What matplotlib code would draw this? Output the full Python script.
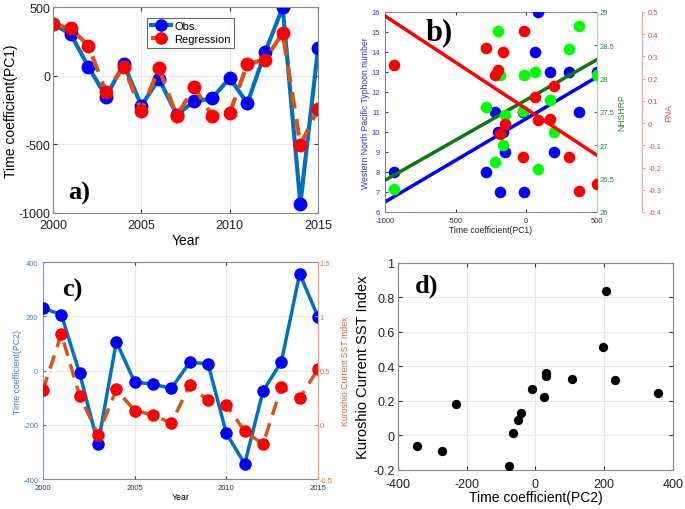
import matplotlib
matplotlib.use('Agg')
import matplotlib.pyplot as plt

plt.rcParams['font.family'] = ['Liberation Sans', 'DejaVu Sans']
plt.rcParams['axes.unicode_minus'] = False

years = list(range(2000, 2016))
pc1_obs = [376, 303, 65, -153, 85, -218, -24, -284, -187, -165, -17, -201, 170, 497, -934, 199]
pc1_reg = [376, 345, 218, -121, 65, -255, 53, -291, -85, -291, -274, 85, 117, 311, -505, -243]

typhoon = [11, 13, 14, 9, 16, 11, 11, 8, 7, 10, 7, 10, 13, 13, 8, 9]
nhshrp = [28.79, 28.44, 28.10, 27.45, 26.64, 26.75, 27.51, 27.57, 28.06, 27.00,
          28.05, 28.71, 27.68, 28.05, 26.34, 27.20]
pna = [-0.305, -0.153, 0.116, -0.005, 0.016, 0.218, -0.153, 0.340, -0.047, 0.320,
       0.415, 0.238, 0.017, -0.273, 0.263, 0.167]
fit_x = [-1000, 500]
typhoon_fit = [6.5, 12.75]
nhshrp_fit = [26.475, 28.285]
pna_fit = [0.482, -0.145]

pc2 = [230, 206, -11, -272, 106, -43, -50, -66, 30, 25, -232, -344, -76, 32, 357, 197]
sst = [0.32, 0.836, 0.267, -0.09, 0.325, 0.13, 0.09, 0.016, 0.365, 0.224,
       0.182, -0.06, -0.178, 0.346, 0.246, 0.512]

LINE_BLUE = '#0072BD'
LINE_ORANGE = '#D95319'
GRIDC = '#e6e6e6'
SPINE = '#888888'

fig = plt.figure(figsize=(6.85, 5.10), dpi=100)

def style_box(ax):
    for s in ax.spines.values():
        s.set_color(SPINE)
        s.set_linewidth(0.8)

# ---------- panel a ----------
axa = fig.add_axes([0.0774, 0.5804, 0.3869, 0.4039])
axa.plot(years, pc1_obs, '-o', color=LINE_BLUE, lw=3, ms=9,
         mfc='#0000FF', mec='#0000FF', label='Obs.')
axa.plot(years, pc1_reg, '--o', color=LINE_ORANGE, lw=3, ms=9,
         mfc='#FF0000', mec='#FF0000', dashes=(4, 2.5), label='Regression')
axa.set_xlim(2000, 2015)
axa.set_ylim(-1000, 500)
axa.set_xticks([2000, 2005, 2010, 2015])
axa.set_yticks([-1000, -500, 0, 500])
axa.grid(True, color=GRIDC, lw=0.8)
axa.set_axisbelow(True)
axa.tick_params(direction='in', labelsize=9, length=3, top=True, right=True,
                colors='#333333', labelcolor='#222222')
axa.tick_params(axis='y', pad=2)
axa.tick_params(axis='x', pad=4)
style_box(axa)
axa.set_xlabel('Year', fontsize=10, labelpad=2)
axa.set_ylabel('Time coefficient(PC1)', fontsize=10, labelpad=0)
leg = axa.legend(loc='upper left', bbox_to_anchor=(0.335, 0.975), fontsize=8,
                 frameon=True, fancybox=False, handlelength=1.8, handletextpad=0.3,
                 borderpad=0.3, labelspacing=0.3, markerscale=0.9)
leg.get_frame().set_edgecolor('#444444')
leg.get_frame().set_linewidth(0.8)
axa.text(0.057, 0.068, 'a)', transform=axa.transAxes, fontsize=19,
         fontweight='bold', family='Liberation Serif', va='baseline', ha='left')

# ---------- panel b ----------
axb = fig.add_axes([0.562, 0.5824, 0.3095, 0.3922])
axb.scatter(pc1_obs, typhoon, s=70, color='#0000FF', zorder=3, linewidths=0)
axb.plot(fit_x, typhoon_fit, color='#0000FF', lw=2.5, zorder=2)
axb.set_xlim(-1000, 500)
axb.set_ylim(6, 16)
axb.set_xticks([-1000, -500, 0, 500])
axb.set_yticks(range(6, 17))
axb.tick_params(axis='y', direction='in', labelsize=5.5, length=2.5, colors='#3030e0',
                right=True)
axb.tick_params(axis='x', direction='in', labelsize=5.5, length=2.5, colors='#333333',
                top=True)
for s in axb.spines.values():
    s.set_color(SPINE)
    s.set_linewidth(0.7)
axb.spines['left'].set_color('#7070c0')
axb.set_ylabel('Western North Pacific Typhoon number', fontsize=6.2, color='#3030e0',
               labelpad=1)
axb.set_xlabel('Time coefficient(PC1)', fontsize=6.2, labelpad=1, color='#222222')

axg = axb.twinx()
axg.scatter(pc1_obs, nhshrp, s=70, color='#00FF00', zorder=3, linewidths=0)
axg.plot(fit_x, nhshrp_fit, color='#0A7A0A', lw=2.5, zorder=2)
axg.set_ylim(26, 29)
axg.set_yticks([26, 26.5, 27, 27.5, 28, 28.5, 29])
axg.set_yticklabels(['26', '26.5', '27', '27.5', '28', '28.5', '29'])
axg.tick_params(axis='y', direction='in', labelsize=5.5, length=2.5, colors='#2e8b2e', pad=2)
axg.spines['right'].set_color('#a0d8a0')
for k in ['left', 'top', 'bottom']:
    axg.spines[k].set_visible(False)
axg.set_ylabel('NHSHRP', fontsize=6.2, color='#2e8b2e', labelpad=2)

axp = axb.twinx()
axp.scatter(pc1_obs, pna, s=70, color='#FF0000', zorder=3, linewidths=0)
axp.plot(fit_x, pna_fit, color='#FF0000', lw=2.5, zorder=2)
axp.set_ylim(-0.4, 0.5)
axp.set_yticks([-0.4, -0.3, -0.2, -0.1, 0, 0.1, 0.2, 0.3, 0.4, 0.5])
axp.set_yticklabels(['-0.4', '-0.3', '-0.2', '-0.1', '0', '0.1', '0.2', '0.3', '0.4', '0.5'])
axp.spines['right'].set_position(('outward', 32.4))
axp.spines['right'].set_color('#f4a0a0')
for k in ['left', 'top', 'bottom']:
    axp.spines[k].set_visible(False)
axp.tick_params(axis='y', direction='out', labelsize=5.5, length=2.5, colors='#f4a0a0',
                labelcolor='#e04848', pad=2)
axp.set_ylabel('PNA', fontsize=6.2, color='#e04848', labelpad=2)
axb.text(0.19, 0.865, 'b)', transform=axb.transAxes, fontsize=22,
         fontweight='bold', family='Liberation Serif', va='baseline', ha='left', zorder=10)

# ---------- panel c ----------
axc = fig.add_axes([0.0628, 0.0588, 0.4015, 0.4255])
axc.plot(years, pc2, '-o', color=LINE_BLUE, lw=2.5, ms=8,
         mfc='#0000FF', mec='#0000FF', zorder=3)
axc.set_xlim(2000, 2015)
axc.set_ylim(-400, 400)
axc.set_xticks([2000, 2005, 2010, 2015])
axc.set_yticks([-400, -200, 0, 200, 400])
axc.grid(True, color=GRIDC, lw=0.8)
axc.set_axisbelow(True)
axc.tick_params(axis='y', direction='in', labelsize=5.5, length=2.5, colors='#3d7fc0')
axc.tick_params(axis='x', direction='in', labelsize=5.5, length=2.5, colors='#333333', top=True)
style_box(axc)
axc.spines['left'].set_color('#6fa0d0')
axc.set_ylabel('Time coefficient(PC2)', fontsize=6.3, color='#3d7fc0', labelpad=1)
axc.set_xlabel('Year', fontsize=6.3, labelpad=1)

axc2 = axc.twinx()
axc2.plot(years, sst, '--o', color=LINE_ORANGE, lw=2.5, ms=8, dashes=(4, 2.5),
          mfc='#FF0000', mec='#FF0000')
axc2.set_ylim(-0.5, 1.5)
axc2.set_yticks([-0.5, 0, 0.5, 1, 1.5])
axc2.set_yticklabels(['-0.5', '0', '0.5', '1', '1.5'])
axc2.tick_params(axis='y', direction='in', labelsize=5.5, length=2.5, colors='#e07040', pad=1)
axc2.spines['right'].set_color('#e8a080')
for k in ['left', 'top', 'bottom']:
    axc2.spines[k].set_visible(False)
axc2.set_ylabel('Kuroshio Current SST Index', fontsize=6.3, color='#e06030', labelpad=6)
axc.text(0.069, 0.843, 'c)', transform=axc.transAxes, fontsize=19,
         fontweight='bold', family='Liberation Serif', va='baseline', ha='left', zorder=10)

# ---------- panel d ----------
axd = fig.add_axes([0.581, 0.0765, 0.4015, 0.4059])
axd.scatter(pc2, sst, s=45, color='black', zorder=3, linewidths=0)
axd.set_xlim(-400, 400)
axd.set_ylim(-0.2, 1)
axd.set_xticks([-400, -200, 0, 200, 400])
axd.set_yticks([-0.2, 0, 0.2, 0.4, 0.6, 0.8, 1])
axd.set_yticklabels(['-0.2', '0', '0.2', '0.4', '0.6', '0.8', '1'])
axd.grid(True, color=GRIDC, lw=0.8)
axd.set_axisbelow(True)
axd.tick_params(direction='in', labelsize=9, length=3, top=True, right=True,
                colors='#333333', labelcolor='#222222')
axd.tick_params(axis='y', pad=2.5)
axd.tick_params(axis='x', pad=5.5)
style_box(axd)
axd.set_xlabel('Time coefficient(PC2)', fontsize=10, labelpad=0)
axd.set_ylabel('Kuroshio Current SST Index', fontsize=10.5, labelpad=2)
axd.text(0.062, 0.86, 'd)', transform=axd.transAxes, fontsize=19,
         fontweight='bold', family='Liberation Serif', va='baseline', ha='left', zorder=10)

fig.savefig('out.png', dpi=100, facecolor='white')
